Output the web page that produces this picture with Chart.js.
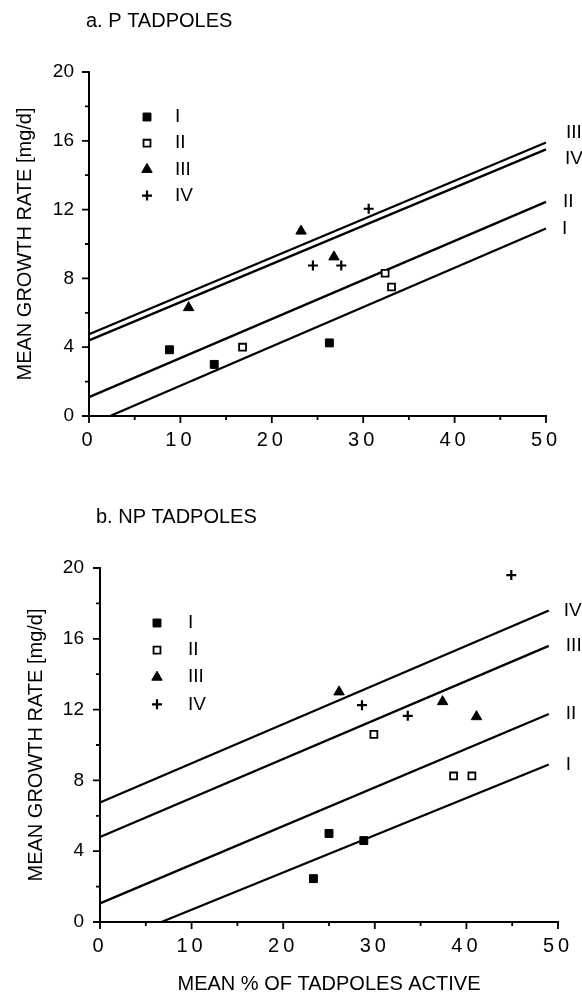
<!DOCTYPE html>
<html>
<head>
<meta charset="utf-8">
<script src="https://cdn.jsdelivr.net/npm/chart.js@4.4.1/dist/chart.umd.min.js"></script>
<style>
  html, body { margin: 0; padding: 0; background: #fff; }
  #wrap { position: relative; width: 582px; height: 997px; }
  .panel { position: absolute; left: 0; width: 582px; }
</style>
</head>
<body>
<div id="wrap">
  <div class="panel" style="top:0;height:490px"><canvas id="chartP" width="582" height="490"></canvas></div>
  <div class="panel" style="top:490px;height:507px"><canvas id="chartNP" width="582" height="507"></canvas></div>
</div>
<script>
// ---- data ----
// a. P tadpoles: [mean % active, mean growth rate]
const pGroupI   = [[8.8, 3.85], [13.7, 3.0], [26.3, 4.25]];
const pGroupII  = [[16.8, 4.0], [32.4, 8.3], [33.1, 7.5]];
const pGroupIII = [[10.9, 6.3], [23.2, 10.75], [26.8, 9.25]];
const pGroupIV  = [[24.5, 8.75], [27.6, 8.75], [30.6, 12.05]];
// fitted lines (end points)
const pLineI   = [[2.3, 0], [50, 10.9]];
const pLineII  = [[0, 1.1], [50, 12.45]];
const pLineIII = [[0, 4.75], [50, 15.9]];
const pLineIV  = [[0, 4.4], [50, 15.5]];

// b. NP tadpoles
const npGroupI   = [[23.3, 2.45], [25.0, 5.0], [28.8, 4.6]];
const npGroupII  = [[29.9, 10.6], [38.6, 8.25], [40.6, 8.25]];
const npGroupIII = [[26.1, 13.0], [37.4, 12.45], [41.1, 11.6]];
const npGroupIV  = [[28.6, 12.25], [33.6, 11.65], [44.9, 19.6]];
const npLineI   = [[6.7, 0], [49, 8.9]];
const npLineII  = [[0, 1.05], [49, 11.75]];
const npLineIII = [[0, 4.8], [49, 15.6]];
const npLineIV  = [[0, 6.75], [49, 17.6]];

const groupNames = ['I', 'II', 'III', 'IV'];
const xTicks = [0, 10, 20, 30, 40, 50];
const yTicks = [0, 4, 8, 12, 16, 20];

// ---- styling ----
const FONT = "'Liberation Sans', Arial, Helvetica, sans-serif";
const X_LETTER_SPACING = '4px';
Chart.defaults.font.family = FONT;
Chart.defaults.color = '#000';

const markerStyles = [
  { style: 'rect', radius: 5.6, fill: '#000', width: 1 },
  { style: 'rect', radius: 4.9, fill: '#fff', width: 1.8 },
  { style: 'triangle', radius: 6, fill: '#000', width: 1 },
  { style: 'cross', radius: 5, fill: '#000', width: 2.2 }
];

// linear scale whose tick labels are letter spaced (like the x axis numbers)
class SpacedLinearScale extends Chart.LinearScale {
  drawLabels(chartArea) {
    const ctx = this.ctx;
    ctx.save();
    ctx.letterSpacing = this.axis === 'x' ? X_LETTER_SPACING : '0px';
    super.drawLabels(chartArea);
    ctx.restore();
  }
}
SpacedLinearScale.id = 'spacedLinear';
SpacedLinearScale.defaults = Chart.LinearScale.defaults;
Chart.register(SpacedLinearScale);

// short minor ticks, longer major ticks, all pointing outwards
const tickMarks = {
  id: 'tickMarks',
  afterDraw(chart) {
    const ctx = chart.ctx, area = chart.chartArea;
    const xs = chart.scales.x, ys = chart.scales.y;
    ctx.save();
    ctx.strokeStyle = '#000';
    ctx.lineWidth = 1.8;
    ctx.beginPath();
    xs.ticks.forEach(t => {
      const px = xs.getPixelForValue(t.value);
      const len = xTicks.includes(t.value) ? 7 : 4;
      ctx.moveTo(px, area.bottom);
      ctx.lineTo(px, area.bottom + len);
    });
    ys.ticks.forEach(t => {
      const py = ys.getPixelForValue(t.value);
      const len = yTicks.includes(t.value) ? 7 : 4;
      ctx.moveTo(area.left, py);
      ctx.lineTo(area.left - len, py);
    });
    ctx.stroke();
    ctx.restore();
  }
};

function toXY(pairs) {
  return pairs.map(p => ({ x: p[0], y: p[1] }));
}

function makePanel(canvasId, cfg) {
  const datasets = [];
  cfg.groups.forEach((g, i) => {
    const m = markerStyles[i];
    datasets.push({
      label: groupNames[i],
      data: toXY(g),
      showLine: false,
      pointStyle: m.style,
      pointRadius: m.radius,
      pointHoverRadius: m.radius,
      pointBackgroundColor: m.fill,
      pointBorderColor: '#000',
      pointBorderWidth: m.width
    });
  });
  cfg.lines.forEach((l, i) => {
    datasets.push({
      label: 'fit ' + groupNames[i],
      data: toXY(l),
      showLine: true,
      borderColor: '#000',
      borderWidth: 2.3,
      pointRadius: 0,
      pointHoverRadius: 0,
      clip: false
    });
  });

  // panel heading, inner legend and line names at the right end
  const panelText = {
    id: 'panelText',
    afterDraw(chart) {
      const ctx = chart.ctx;
      ctx.save();
      ctx.textBaseline = 'middle';
      ctx.textAlign = 'left';
      ctx.fillStyle = '#000';
      ctx.font = '20px ' + FONT;
      ctx.fillText(cfg.title, cfg.titleX, cfg.titleY);

      ctx.font = '19px ' + FONT;
      groupNames.forEach((name, i) => {
        const m = markerStyles[i];
        const y = cfg.legendY + i * cfg.legendGap;
        ctx.fillStyle = m.fill;
        ctx.strokeStyle = '#000';
        ctx.lineWidth = m.width;
        Chart.helpers.drawPoint(ctx, { pointStyle: m.style, radius: m.radius, rotation: 0, borderWidth: m.width }, cfg.legendX, y);
        ctx.fillStyle = '#000';
        ctx.fillText(name, cfg.legendTextX, y);
      });

      cfg.lines.forEach((l, i) => {
        const meta = chart.getDatasetMeta(cfg.groups.length + i);
        const end = meta.data[meta.data.length - 1];
        const off = cfg.lineLabelOffset[i];
        ctx.fillText(groupNames[i], end.x + off[0], end.y + off[1]);
      });
      ctx.restore();
    }
  };

  return new Chart(document.getElementById(canvasId), {
    type: 'scatter',
    data: { datasets: datasets },
    options: {
      responsive: false,
      animation: false,
      events: [],
      layout: { padding: { left: 0, right: cfg.padRight, top: cfg.padTop, bottom: cfg.padBottom } },
      plugins: { legend: { display: false }, tooltip: { enabled: false }, title: { display: false } },
      scales: {
        x: {
          type: 'spacedLinear',
          min: 0,
          max: 50,
          afterFit: s => { s.height = cfg.xHeight; },
          grid: { drawOnChartArea: false, drawTicks: false },
          border: { color: '#000', width: 2 },
          ticks: {
            stepSize: 5,
            autoSkip: false,
            maxRotation: 0,
            padding: 12,
            color: '#000',
            font: { size: 20 },
            callback: v => xTicks.includes(v) ? String(v) : ''
          },
          title: cfg.xTitle
            ? { display: true, text: cfg.xTitle, color: '#000', font: { size: 20 }, padding: { top: 0, bottom: 1 } }
            : { display: false }
        },
        y: {
          type: 'spacedLinear',
          min: 0,
          max: 20,
          afterFit: s => { s.width = cfg.yWidth; },
          grid: { drawOnChartArea: false, drawTicks: false },
          border: { color: '#000', width: 2 },
          ticks: {
            stepSize: 2,
            autoSkip: false,
            padding: cfg.yTickPad,
            color: '#000',
            font: { size: 19 },
            callback: v => yTicks.includes(v) ? String(v) : ''
          },
          title: {
            display: true,
            text: 'MEAN GROWTH RATE [mg/d]',
            color: '#000',
            font: { size: 20 },
            padding: { top: cfg.yTitlePad, bottom: 0 }
          }
        }
      }
    },
    plugins: [tickMarks, panelText]
  });
}

makePanel('chartP', {
  title: 'a. P TADPOLES', titleX: 86, titleY: 21,
  groups: [pGroupI, pGroupII, pGroupIII, pGroupIV],
  lines: [pLineI, pLineII, pLineIII, pLineIV],
  lineLabelOffset: [[16, 0], [17, 0], [20, -10], [19, 9]],
  legendX: 147, legendY: 117, legendGap: 26.2, legendTextX: 175,
  padTop: 72, padRight: 36, padBottom: 34, xHeight: 40, yWidth: 89,
  yTickPad: 15, yTitlePad: 13, xTitle: null
});

makePanel('chartNP', {
  title: 'b. NP TADPOLES', titleX: 96, titleY: 27,
  groups: [npGroupI, npGroupII, npGroupIII, npGroupIV],
  lines: [npLineI, npLineII, npLineIII, npLineIV],
  lineLabelOffset: [[17, 0], [17, 0], [17, 0], [15, 0]],
  legendX: 157, legendY: 133, legendGap: 27.1, legendTextX: 188,
  padTop: 78, padRight: 24, padBottom: 0, xHeight: 75, yWidth: 100,
  yTickPad: 16, yTitlePad: 24, xTitle: 'MEAN % OF TADPOLES ACTIVE'
});
</script>
</body>
</html>
